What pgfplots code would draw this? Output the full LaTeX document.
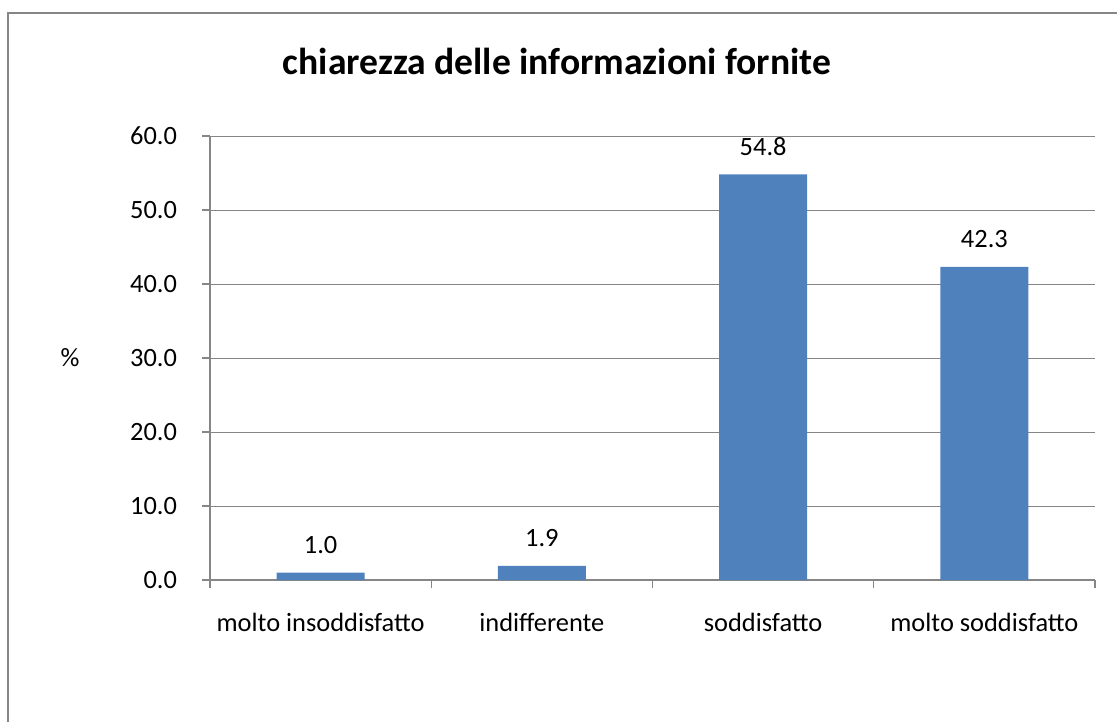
\documentclass[border=0pt]{standalone}
\usepackage{pgfplots}
\pgfplotsset{compat=1.18}
\usepackage{fontspec}
\setmainfont{Carlito}
\definecolor{barblue}{HTML}{4F81BD}
\definecolor{axgray}{HTML}{868686}
\begin{document}
\begin{tikzpicture}
\useasboundingbox (0,0) rectangle (558.5pt,-361pt);
\draw[axgray, line width=1.4pt] (4pt,-361pt) -- (4pt,-6.5pt) -- (558.5pt,-6.5pt);
\begin{axis}[
  at={(105pt,-290pt)}, anchor=south west,
  scale only axis, width=442.5pt, height=222pt,
  /pgf/number format/assume math mode=true,
  ybar, bar width=44pt,
  xmin=-0.5, xmax=3.5, ymin=0, ymax=60,
  axis x line*=bottom, axis y line*=left,
  axis line style={axgray, line width=0.7pt, -},
  xtick={0,1,2,3},
  xticklabels={molto insoddisfatto, indifferente, soddisfatto, molto soddisfatto},
  major x tick style={draw=none},
  minor xtick={-0.5,0.5,1.5,2.5,3.5},
  minor tick length=4pt,
  minor x tick style={axgray, line width=0.7pt},
  ytick={0,10,...,60},
  major tick length=4pt,
  tick align=outside,
  y tick style={axgray, line width=0.7pt},
  ymajorgrids, grid style={axgray, line width=0.5pt},
  yticklabel={\pgfmathprintnumber[fixed, fixed zerofill, precision=1]{\tick}},
  tick label style={font=\fontsize{13.2}{15}\selectfont, text=black},
  xticklabel style={yshift=-9pt},
  yticklabel style={xshift=-9pt},
  ylabel={\%},
  ylabel style={rotate=-90, at={(axis description cs:-0.158,0.5)}, anchor=center, font=\fontsize{13.2}{15}\selectfont},
  title={\textbf{chiarezza delle informazioni fornite}},
  title style={at={(axis description cs:0.392,1.167)}, anchor=center, yshift=-6pt, font=\fontsize{18.8}{22}\selectfont},
  nodes near coords={\pgfmathprintnumber[fixed, fixed zerofill, precision=1]{\pgfplotspointmeta}},
  nodes near coords style={font=\fontsize{13.2}{15}\selectfont, text=black, yshift=6pt},
]
\addplot[fill=barblue, draw=none] coordinates {(0,1.0) (1,1.9) (2,54.8) (3,42.3)};
\end{axis}
\end{tikzpicture}
\end{document}
